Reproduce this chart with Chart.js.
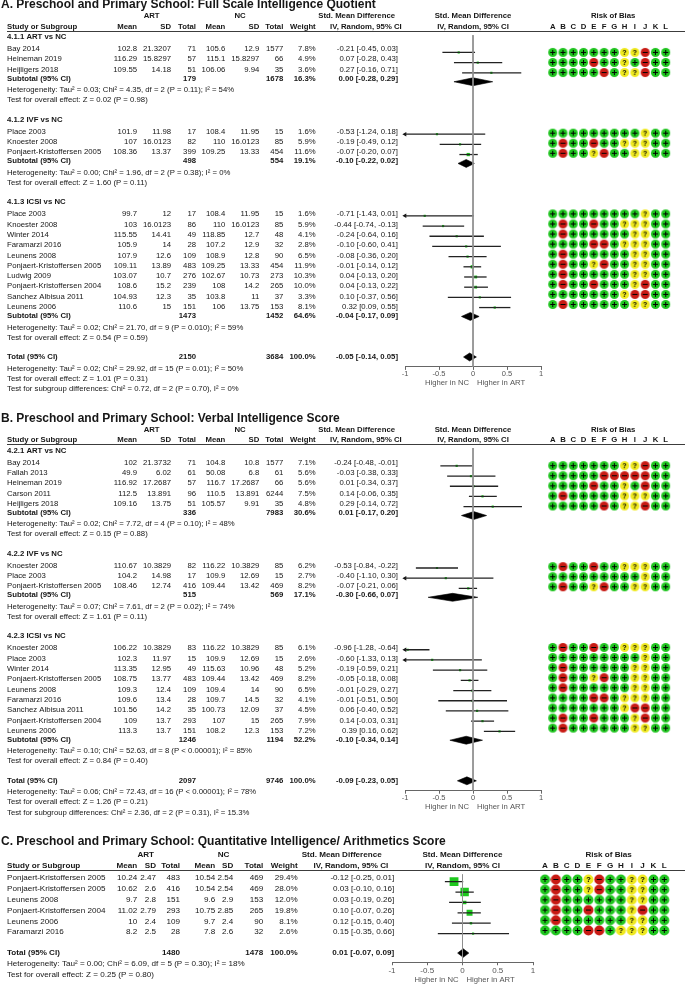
<!DOCTYPE html>
<html>
<head>
<meta charset="utf-8">
<script src="https://cdn.jsdelivr.net/npm/chart.js@4.4.1/dist/chart.umd.min.js"></script>
<style>
  html, body { margin: 0; padding: 0; background: #fff; }
  #page { position: relative; width: 685px; height: 985px; overflow: hidden; }
  .panel { position: absolute; left: 0; width: 685px; }
  .panel canvas { position: absolute; left: 0; top: 0; }
</style>
</head>
<body>
<div id="page"></div>
<script>
// ---- shared ----
const robDomains = ['A', 'B', 'C', 'D', 'E', 'F', 'G', 'H', 'I', 'J', 'K', 'L'];
const xTicks = [-1, -0.5, 0, 0.5, 1];

// ---- A. Full Scale Intelligence Quotient ----
const aTitle = 'A. Preschool and Primary School: Full Scale Intelligence Quotient';
const aGroups = ['4.1.1 ART vs NC', '4.1.2 IVF vs NC', '4.1.3 ICSI vs NC'];
const aGroupOf = [0, 0, 0, 1, 1, 1, 2, 2, 2, 2, 2, 2, 2, 2, 2, 2];
const aStudies = ['Bay 2014', 'Heineman 2019', 'Heijligers 2018', 'Place 2003', 'Knoester 2008', 'Ponjaert-Kristoffersen 2005',
  'Place 2003', 'Knoester 2008', 'Winter 2014', 'Faramarzi 2016', 'Leunens 2008', 'Ponjaert-Kristoffersen 2005',
  'Ludwig 2009', 'Ponjaert-Kristoffersen 2004', 'Sanchez Albisua 2011', 'Leunens 2006'];
const aArtMean = [102.8, 116.29, 109.55, 101.9, 107, 108.36, 99.7, 103, 115.55, 105.9, 107.9, 109.11, 103.07, 108.6, 104.93, 110.6];
const aArtSD = [21.3207, 15.8297, 14.18, 11.98, 16.0123, 13.37, 12, 16.0123, 14.41, 14, 12.6, 13.89, 10.7, 15.2, 12.3, 15];
const aArtN = [71, 57, 51, 17, 82, 399, 17, 86, 49, 28, 109, 483, 276, 239, 35, 151];
const aNcMean = [105.6, 115.1, 106.06, 108.4, 110, 109.25, 108.4, 110, 118.85, 107.2, 108.9, 109.25, 102.67, 108, 103.8, 106];
const aNcSD = [12.9, 15.8297, 9.94, 11.95, 16.0123, 13.33, 11.95, 16.0123, 12.7, 12.9, 12.8, 13.33, 10.73, 14.2, 11, 13.75];
const aNcN = [1577, 66, 35, 15, 85, 454, 15, 85, 48, 32, 90, 454, 273, 265, 37, 153];
const aWeight = [7.8, 4.9, 3.6, 1.6, 5.9, 11.6, 1.6, 5.9, 4.1, 2.8, 6.5, 11.9, 10.3, 10.0, 3.3, 8.1];
const aSmd = [-0.21, 0.07, 0.27, -0.53, -0.19, -0.07, -0.71, -0.44, -0.24, -0.10, -0.08, -0.01, 0.04, 0.04, 0.10, 0.32];
const aLo = [-0.45, -0.28, -0.16, -1.24, -0.49, -0.20, -1.43, -0.74, -0.64, -0.60, -0.36, -0.14, -0.13, -0.13, -0.37, 0.09];
const aHi = [0.03, 0.43, 0.71, 0.18, 0.12, 0.07, 0.01, -0.13, 0.16, 0.41, 0.20, 0.12, 0.20, 0.22, 0.56, 0.55];
const aRob = ['+++++++??-++', '++++-++?+-++', '+++++-+??-++', '+++++++++?++', '+-++-++???++', '+-++?-++??++',
  '+++++++++?++', '+-++-++???++', '+-++++++??++', '++++--+???++', '+-++++++??++', '+-++?-++??++',
  '+-++++++??++', '+-++-+++?-++', '+++++++?--++', '+-++++++??++'];
const aSubArtN = [179, 498, 1473];
const aSubNcN = [1678, 554, 1452];
const aSubWeight = [16.3, 19.1, 64.6];
const aSubSmd = [0.00, -0.10, -0.04];
const aSubLo = [-0.28, -0.22, -0.17];
const aSubHi = [0.29, 0.02, 0.09];
const aSubHet = ['Heterogeneity: Tau² = 0.03; Chi² = 4.35, df = 2 (P = 0.11); I² = 54%',
  'Heterogeneity: Tau² = 0.00; Chi² = 1.96, df = 2 (P = 0.38); I² = 0%',
  'Heterogeneity: Tau² = 0.02; Chi² = 21.70, df = 9 (P = 0.010); I² = 59%'];
const aSubTest = ['Test for overall effect: Z = 0.02 (P = 0.98)', 'Test for overall effect: Z = 1.60 (P = 0.11)',
  'Test for overall effect: Z = 0.54 (P = 0.59)'];
const aTotal = [2150, 3684, 100.0, -0.05, -0.14, 0.05];
const aTotalNotes = ['Heterogeneity: Tau² = 0.02; Chi² = 29.92, df = 15 (P = 0.01); I² = 50%',
  'Test for overall effect: Z = 1.01 (P = 0.31)',
  'Test for subgroup differences: Chi² = 0.72, df = 2 (P = 0.70), I² = 0%'];

// ---- B. Verbal Intelligence Score ----
const bTitle = 'B. Preschool and Primary School: Verbal Intelligence Score';
const bGroups = ['4.2.1 ART vs NC', '4.2.2 IVF vs NC', '4.2.3 ICSI vs NC'];
const bGroupOf = [0, 0, 0, 0, 0, 1, 1, 1, 2, 2, 2, 2, 2, 2, 2, 2, 2];
const bStudies = ['Bay 2014', 'Fallah 2013', 'Heineman 2019', 'Carson 2011', 'Heijligers 2018',
  'Knoester 2008', 'Place 2003', 'Ponjaert-Kristoffersen 2005',
  'Knoester 2008', 'Place 2003', 'Winter 2014', 'Ponjaert-Kristoffersen 2005', 'Leunens 2008', 'Faramarzi 2016',
  'Sanchez Albisua 2011', 'Ponjaert-Kristoffersen 2004', 'Leunens 2006'];
const bArtMean = [102, 49.9, 116.92, 112.5, 109.16, 110.67, 104.2, 108.46, 106.22, 102.3, 113.35, 108.75, 109.3, 109.6, 101.56, 109, 113.3];
const bArtSD = [21.3732, 6.02, 17.2687, 13.891, 13.75, 10.3829, 14.98, 12.74, 10.3829, 11.97, 12.95, 13.77, 12.4, 13.4, 14.2, 13.7, 13.7];
const bArtN = [71, 61, 57, 96, 51, 82, 17, 416, 83, 15, 49, 483, 109, 28, 35, 293, 151];
const bNcMean = [104.8, 50.08, 116.7, 110.5, 105.57, 116.22, 109.9, 109.44, 116.22, 109.9, 115.63, 109.44, 109.4, 109.7, 100.73, 107, 108.2];
const bNcSD = [10.8, 6.8, 17.2687, 13.891, 9.91, 10.3829, 12.69, 13.42, 10.3829, 12.69, 10.96, 13.42, 14, 14.5, 12.09, 15, 12.3];
const bNcN = [1577, 61, 66, 6244, 35, 85, 15, 469, 85, 15, 48, 469, 90, 32, 37, 265, 153];
const bWeight = [7.1, 5.6, 5.6, 7.5, 4.8, 6.2, 2.7, 8.2, 6.1, 2.6, 5.2, 8.2, 6.5, 4.1, 4.5, 7.9, 7.2];
const bSmd = [-0.24, -0.03, 0.01, 0.14, 0.29, -0.53, -0.40, -0.07, -0.96, -0.60, -0.19, -0.05, -0.01, -0.01, 0.06, 0.14, 0.39];
const bLo = [-0.48, -0.38, -0.34, -0.06, -0.14, -0.84, -1.10, -0.21, -1.28, -1.33, -0.59, -0.18, -0.29, -0.51, -0.40, -0.03, 0.16];
const bHi = [-0.01, 0.33, 0.37, 0.35, 0.72, -0.22, 0.30, 0.06, -0.64, 0.13, 0.21, 0.08, 0.27, 0.50, 0.52, 0.31, 0.62];
const bRob = ['+++++++??-++', '+++++-----++', '++++-++?+-++', '+-+++++???++', '+++++-+??-++',
  '+-++-++???++', '+++++++++?++', '+-++?-++??++',
  '+-++-++???++', '+++++++++?++', '+-++++++??++', '+-++?-++??++', '+-++++++??++', '++++--+???++',
  '+++++++?--++', '+-++-+++?-++', '+-++++++??++'];
const bSubArtN = [336, 515, 1246];
const bSubNcN = [7983, 569, 1194];
const bSubWeight = [30.6, 17.1, 52.2];
const bSubSmd = [0.01, -0.30, -0.10];
const bSubLo = [-0.17, -0.66, -0.34];
const bSubHi = [0.20, 0.07, 0.14];
const bSubHet = ['Heterogeneity: Tau² = 0.02; Chi² = 7.72, df = 4 (P = 0.10); I² = 48%',
  'Heterogeneity: Tau² = 0.07; Chi² = 7.61, df = 2 (P = 0.02); I² = 74%',
  'Heterogeneity: Tau² = 0.10; Chi² = 52.63, df = 8 (P < 0.00001); I² = 85%'];
const bSubTest = ['Test for overall effect: Z = 0.15 (P = 0.88)', 'Test for overall effect: Z = 1.61 (P = 0.11)',
  'Test for overall effect: Z = 0.84 (P = 0.40)'];
const bTotal = [2097, 9746, 100.0, -0.09, -0.23, 0.05];
const bTotalNotes = ['Heterogeneity: Tau² = 0.06; Chi² = 72.43, df = 16 (P < 0.00001); I² = 78%',
  'Test for overall effect: Z = 1.26 (P = 0.21)',
  'Test for subgroup differences: Chi² = 2.36, df = 2 (P = 0.31), I² = 15.3%'];

// ---- C. Quantitative Intelligence / Arithmetics ----
const cTitle = 'C. Preschool and Primary School: Quantitative Intelligence/ Arithmetics Score';
const cStudies = ['Ponjaert-Kristoffersen 2005', 'Ponjaert-Kristoffersen 2005', 'Leunens 2008',
  'Ponjaert-Kristoffersen 2004', 'Leunens 2006', 'Faramarzi 2016'];
const cArtMean = [10.24, 10.62, 9.7, 11.02, 10, 8.2];
const cArtSD = [2.47, 2.6, 2.8, 2.79, 2.4, 2.5];
const cArtN = [483, 416, 151, 293, 109, 28];
const cNcMean = [10.54, 10.54, 9.6, 10.75, 9.7, 7.8];
const cNcSD = [2.54, 2.54, 2.9, 2.85, 2.4, 2.6];
const cNcN = [469, 469, 153, 265, 90, 32];
const cWeight = [29.4, 28.0, 12.0, 19.8, 8.1, 2.6];
const cSmd = [-0.12, 0.03, 0.03, 0.10, 0.12, 0.15];
const cLo = [-0.25, -0.10, -0.19, -0.07, -0.15, -0.35];
const cHi = [0.01, 0.16, 0.26, 0.26, 0.40, 0.66];
const cRob = ['+-++?-++??++', '+-++?-++??++', '+-++++++??++', '+-++-+++?-++', '+-++++++??++', '++++--+???++'];
const cTotal = [1480, 1478, 100.0, 0.01, -0.07, 0.09];
const cTotalNotes = ['Heterogeneity: Tau² = 0.00; Chi² = 6.09, df = 5 (P = 0.30); I² = 18%',
  'Test for overall effect: Z = 0.25 (P = 0.80)'];

// ---- drawing ----
const W = 685;
const FONT = '"Liberation Sans", Arial, Helvetica, sans-serif';
const INK = '#161616';
const ROB_FILL = { '+': '#1fc41f', '-': '#c81a14', '?': '#efe920' };

function ciText(e, l, h) {
  return e.toFixed(2) + ' [' + l.toFixed(2) + ', ' + h.toFixed(2) + ']';
}

function layoutRows(p, d) {
  const rows = [];
  let y = p.startY;
  const addStudies = idx => idx.forEach((i, k) => {
    if (k) y += p.step;
    rows.push({ kind: 'study', y, i });
  });
  if (d.groups) {
    d.groups.forEach((g, gi) => {
      rows.push({ kind: 'group', y, text: g });
      y += p.gFirst;
      addStudies(d.groupOf.map((v, i) => (v === gi ? i : -1)).filter(i => i >= 0));
      y += p.subGap; rows.push({ kind: 'sub', y, gi });
      y += p.hetGap; rows.push({ kind: 'note', y, text: d.subHet[gi] });
      y += p.testGap; rows.push({ kind: 'note', y, text: d.subTest[gi] });
      y += p.blockGap;
    });
  } else {
    addStudies(d.names.map((_, i) => i));
    y += p.blockGap;
  }
  rows.push({ kind: 'total', y });
  d.totalNotes.forEach((t, k) => {
    y += p.noteGaps[k];
    rows.push({ kind: 'note', y, text: t });
  });
  return rows;
}

function robIcon(v, r, qSize) {
  const c = document.createElement('canvas');
  c.width = c.height = 11;
  const g = c.getContext('2d');
  const m = 5.5;
  g.fillStyle = ROB_FILL[v];
  g.beginPath(); g.arc(m, m, r, 0, Math.PI * 2); g.fill();
  g.strokeStyle = '#000'; g.fillStyle = '#000'; g.lineWidth = 1;
  g.beginPath();
  if (v === '+') {
    g.moveTo(m - 2.5, m); g.lineTo(m + 2.5, m);
    g.moveTo(m, m - 2.5); g.lineTo(m, m + 2.5);
    g.stroke();
  } else if (v === '-') {
    g.moveTo(m - 2.5, m); g.lineTo(m + 2.5, m);
    g.stroke();
  } else {
    g.font = 'bold ' + qSize + 'px ' + FONT;
    g.textAlign = 'center'; g.textBaseline = 'middle';
    g.fillText('?', m, m + 0.5);
  }
  return c;
}

function buildPanel(p, d) {
  const box = document.createElement('div');
  box.className = 'panel';
  box.style.top = p.top + 'px';
  box.style.height = p.height + 'px';
  const fc = document.createElement('canvas');
  const rc = document.createElement('canvas');
  [fc, rc].forEach(c => { c.width = W; c.height = p.height; box.appendChild(c); });
  document.getElementById('page').appendChild(box);

  const rows = layoutRows(p, d);
  const studies = rows.filter(r => r.kind === 'study');
  const pooled = rows.filter(r => r.kind === 'sub' || r.kind === 'total');
  const totalRow = rows.find(r => r.kind === 'total');
  const axisY = totalRow.y + p.axisGap;
  const xMin = xTicks[0], xMax = xTicks[xTicks.length - 1];
  const pooledEst = r => (r.kind === 'total' ? d.total.slice(3)
    : [d.subSmd[r.gi], d.subLo[r.gi], d.subHi[r.gi]]);

  const ds = [];
  ds.push({ data: [{ x: 0, y: p.ulY }, { x: 0, y: axisY }], borderColor: '#8e8e8e', borderWidth: 1, pointRadius: 0 });
  studies.forEach(r => ds.push({
    data: [{ x: d.lo[r.i], y: r.y }, { x: d.hi[r.i], y: r.y }],
    borderColor: '#222', borderWidth: 1.3, pointRadius: 0
  }));
  ds.push({
    data: studies.map(r => ({ x: d.smd[r.i], y: r.y, w: d.weight[r.i] })),
    showLine: false, pointStyle: 'rect',
    pointRadius: c => Math.max(2.2, p.sq * c.raw.w) / Math.SQRT2,
    pointBackgroundColor: '#1ec81e', pointBorderWidth: 0
  });
  ds.push({
    data: studies.filter(r => d.lo[r.i] < xMin).map(r => ({ x: Math.max(d.lo[r.i], xMin), y: r.y })),
    showLine: false, pointStyle: 'triangle', pointRotation: -90, pointRadius: 2.6,
    pointBackgroundColor: '#111', pointBorderWidth: 0, clip: false
  });
  pooled.forEach(r => {
    const [e, l, h] = pooledEst(r);
    ds.push({ data: [{ x: l, y: r.y }, { x: e, y: r.y - p.dh }, { x: h, y: r.y }],
      borderColor: '#000', borderWidth: 0.6, pointRadius: 0, fill: '+1', backgroundColor: '#000' });
    ds.push({ data: [{ x: l, y: r.y }, { x: e, y: r.y + p.dh }, { x: h, y: r.y }],
      borderColor: '#000', borderWidth: 0.6, pointRadius: 0 });
  });

  const tablePlugin = {
    id: 'table' + p.key,
    afterDraw(chart) {
      const ctx = chart.ctx;
      const font = (b, s) => (b ? 'bold ' : '') + (s || p.fs) + 'px ' + FONT;
      const x0 = chart.scales.x.getPixelForValue(0);
      ctx.save();
      ctx.fillStyle = INK;
      ctx.textBaseline = 'middle';
      ctx.font = font(true, 12); ctx.textAlign = 'left';
      ctx.fillText(d.title, 1, p.titleY);

      ctx.font = font(true);
      ctx.textAlign = 'center';
      ctx.fillText('ART', p.artX, p.hdr1Y);
      ctx.fillText('NC', p.ncX, p.hdr1Y);
      ctx.fillText('Std. Mean Difference', x0, p.hdr1Y);
      ctx.fillText('IV, Random, 95% CI', x0, p.hdr2Y);
      ctx.textAlign = 'right';
      ctx.fillText('Std. Mean Difference', p.smdHdr1, p.hdr1Y);
      ctx.fillText('IV, Random, 95% CI', p.smdHdr2, p.hdr2Y);
      ['Mean', 'SD', 'Total', 'Mean', 'SD', 'Total', 'Weight'].forEach((h, k) => ctx.fillText(h, p.cols[k], p.hdr2Y));
      ctx.textAlign = 'left';
      ctx.fillText('Study or Subgroup', p.nameX, p.hdr2Y);

      ctx.strokeStyle = '#3c3c3c'; ctx.lineWidth = 1;
      ctx.beginPath();
      ctx.moveTo(p.nameX, Math.floor(p.ulY) + 0.5); ctx.lineTo(W, Math.floor(p.ulY) + 0.5);
      ctx.stroke();

      rows.forEach(r => {
        if (r.kind === 'group' || r.kind === 'note') {
          ctx.font = font(r.kind === 'group'); ctx.textAlign = 'left';
          ctx.fillText(r.text, p.nameX, r.y);
        } else if (r.kind === 'study') {
          const i = r.i;
          ctx.font = font(false); ctx.textAlign = 'left';
          ctx.fillText(d.names[i], p.nameX, r.y);
          ctx.textAlign = 'right';
          [d.artMean[i], d.artSD[i], d.artN[i], d.ncMean[i], d.ncSD[i], d.ncN[i]]
            .forEach((v, k) => ctx.fillText(String(v), p.cols[k], r.y));
          ctx.fillText(d.weight[i].toFixed(1) + '%', p.cols[6], r.y);
          ctx.fillText(ciText(d.smd[i], d.lo[i], d.hi[i]), p.ciX, r.y);
        } else {
          const isTotal = r.kind === 'total';
          const nA = isTotal ? d.total[0] : d.subArtN[r.gi];
          const nN = isTotal ? d.total[1] : d.subNcN[r.gi];
          const wt = isTotal ? d.total[2] : d.subWeight[r.gi];
          const [e, l, h] = pooledEst(r);
          ctx.font = font(true); ctx.textAlign = 'left';
          ctx.fillText(isTotal ? 'Total (95% CI)' : 'Subtotal (95% CI)', p.nameX, r.y);
          ctx.textAlign = 'right';
          ctx.fillText(String(nA), p.cols[2], r.y);
          ctx.fillText(String(nN), p.cols[5], r.y);
          ctx.fillText(wt.toFixed(1) + '%', p.cols[6], r.y);
          ctx.fillText(ciText(e, l, h), p.ciX, r.y);
        }
      });

      ctx.fillStyle = '#555';
      ctx.font = font(false, 7.7);
      ctx.textAlign = 'right';
      ctx.fillText('Higher in NC', x0 - 4, axisY + p.capGap);
      ctx.textAlign = 'left';
      ctx.fillText('Higher in ART', x0 + 4, axisY + p.capGap);
      ctx.restore();
    }
  };

  new Chart(fc, {
    type: 'line',
    data: { datasets: ds },
    options: {
      responsive: false, animation: false, events: [],
      layout: { padding: { left: p.x0, right: W - p.x1, top: 0, bottom: 0 } },
      plugins: { legend: { display: false }, tooltip: { enabled: false } },
      scales: {
        x: {
          type: 'linear', min: xMin, max: xMax,
          afterFit: s => { s.height = p.height - axisY; },
          afterBuildTicks: s => { s.ticks = xTicks.map(v => ({ value: v })); },
          ticks: { padding: p.tickPad, color: '#555', maxRotation: 0, autoSkip: false,
            font: { family: FONT, size: p.tickFont }, callback: v => String(v) },
          grid: { drawOnChartArea: false, tickLength: 3, color: '#666' },
          border: { color: '#666' }
        },
        y: { type: 'linear', display: false, reverse: true, min: 0, max: axisY }
      }
    },
    plugins: [tablePlugin]
  });

  // risk of bias grid
  const icons = {};
  Object.keys(ROB_FILL).forEach(v => { icons[v] = robIcon(v, p.robR, p.qSize); });
  const step = (p.robL - p.robA) / (robDomains.length - 1);
  const robHeader = {
    id: 'rob' + p.key,
    afterDraw(chart) {
      const ctx = chart.ctx, xs = chart.scales.x;
      ctx.save();
      ctx.fillStyle = INK;
      ctx.textAlign = 'center'; ctx.textBaseline = 'middle';
      ctx.font = 'bold ' + p.fs + 'px ' + FONT;
      ctx.fillText('Risk of Bias', xs.getPixelForValue((robDomains.length - 1) / 2) + 4, p.hdr1Y);
      robDomains.forEach((L, k) => ctx.fillText(L, xs.getPixelForValue(k), p.hdr2Y));
      ctx.restore();
    }
  };
  new Chart(rc, {
    type: 'scatter',
    data: { datasets: [{
      data: studies.flatMap(r => [...d.rob[r.i]].map((v, k) => ({ x: k, y: r.y, v }))),
      pointStyle: c => icons[c.raw.v], pointRadius: p.robR, pointBorderWidth: 0
    }] },
    options: {
      responsive: false, animation: false, events: [],
      layout: { padding: { left: p.robA - step / 2, right: W - p.robL - step / 2, top: 0, bottom: 0 } },
      plugins: { legend: { display: false }, tooltip: { enabled: false } },
      scales: {
        x: { type: 'linear', display: false, min: -0.5, max: robDomains.length - 0.5 },
        y: { type: 'linear', display: false, reverse: true, min: 0, max: p.height }
      }
    },
    plugins: [robHeader]
  });
}

const abLayout = {
  fs: 7.75, gFirst: 12, step: 10.3, subGap: 9, hetGap: 11.5, testGap: 10, blockGap: 19.5,
  noteGaps: [11.5, 10, 10.4], axisGap: 10, tickFont: 7.5, tickPad: 0, capGap: 16,
  x0: 405, x1: 541, robA: 552.7, robL: 665.7, robR: 4.5, qSize: 7, dh: 4, sq: 0.28,
  nameX: 7, cols: [137, 171, 196, 225.3, 259.3, 283.3, 315.7], ciX: 398,
  artX: 151.6, ncX: 240, smdHdr1: 395, smdHdr2: 401.7
};

buildPanel(Object.assign({}, abLayout, { key: 'A', top: 0, height: 400,
  titleY: 5, hdr1Y: 16, hdr2Y: 26.7, ulY: 31.5, startY: 37 }), {
  title: aTitle, groups: aGroups, groupOf: aGroupOf, names: aStudies,
  artMean: aArtMean, artSD: aArtSD, artN: aArtN, ncMean: aNcMean, ncSD: aNcSD, ncN: aNcN,
  weight: aWeight, smd: aSmd, lo: aLo, hi: aHi, rob: aRob,
  subArtN: aSubArtN, subNcN: aSubNcN, subWeight: aSubWeight, subSmd: aSubSmd, subLo: aSubLo, subHi: aSubHi,
  subHet: aSubHet, subTest: aSubTest, total: aTotal, totalNotes: aTotalNotes
});

buildPanel(Object.assign({}, abLayout, { key: 'B', top: 400, height: 420,
  titleY: 18.3, hdr1Y: 30.3, hdr2Y: 40.3, ulY: 44.5, startY: 50.5 }), {
  title: bTitle, groups: bGroups, groupOf: bGroupOf, names: bStudies,
  artMean: bArtMean, artSD: bArtSD, artN: bArtN, ncMean: bNcMean, ncSD: bNcSD, ncN: bNcN,
  weight: bWeight, smd: bSmd, lo: bLo, hi: bHi, rob: bRob,
  subArtN: bSubArtN, subNcN: bSubNcN, subWeight: bSubWeight, subSmd: bSubSmd, subLo: bSubLo, subHi: bSubHi,
  subHet: bSubHet, subTest: bSubTest, total: bTotal, totalNotes: bTotalNotes
});

buildPanel({ key: 'C', top: 820, height: 165, fs: 8.1,
  titleY: 22, hdr1Y: 35, hdr2Y: 46, ulY: 50.5, startY: 58,
  step: 10.85, blockGap: 20.4, noteGaps: [11.3, 11], axisGap: 9.6, tickFont: 8, tickPad: 0.5, capGap: 17.7,
  x0: 392, x1: 533, robA: 545, robL: 664.3, robR: 5, qSize: 7.5, dh: 4.5, sq: 0.3,
  nameX: 7, cols: [137.3, 156, 180, 215.3, 233.3, 263.3, 297.7], ciX: 394.3,
  artX: 145.7, ncX: 223.5, smdHdr1: 381.7, smdHdr2: 388.3 }, {
  title: cTitle, names: cStudies,
  artMean: cArtMean, artSD: cArtSD, artN: cArtN, ncMean: cNcMean, ncSD: cNcSD, ncN: cNcN,
  weight: cWeight, smd: cSmd, lo: cLo, hi: cHi, rob: cRob,
  total: cTotal, totalNotes: cTotalNotes
});
</script>
</body>
</html>
